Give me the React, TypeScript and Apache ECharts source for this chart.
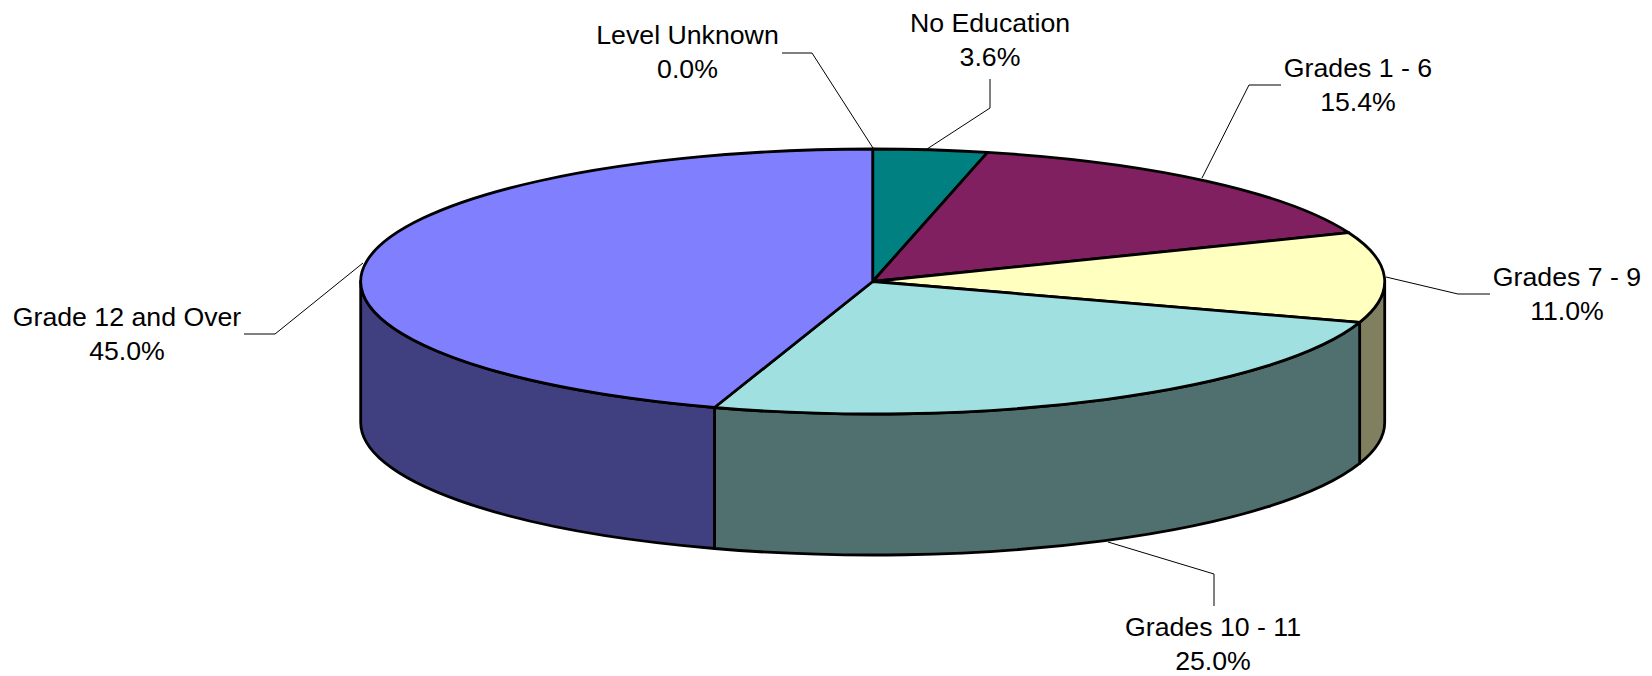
import React, { useEffect, useRef } from "react";
import * as echarts from "echarts";

const categories = ["Level Unknown", "No Education", "Grades 1 - 6", "Grades 7 - 9", "Grades 10 - 11", "Grade 12 and Over"];
const shares = [0.0, 3.6, 15.4, 11.0, 25.0, 45.0];
const topColors = ["#808080", "#008080", "#802060", "#FFFFC0", "#A0E0E0", "#8080FF"];
const sideColors = ["#404040", "#004040", "#401030", "#808060", "#507070", "#404080"];

const CX = 872.7, CY = 281.5, RX = 512, RY = 132.5, DEPTH = 141;
const TEXT_BOX: [number, number][] = [[687.5, 52], [990, 40], [1358, 85], [1567, 294], [1213, 644], [127, 334]];
const LEADERS: [number, number][][] = [
  [[782, 53], [812, 53], [873, 148]],
  [[927, 149], [990, 108], [990, 79]],
  [[1202, 178], [1249, 85], [1281, 85]],
  [[1386, 277], [1458, 294], [1490, 294]],
  [[1108, 542], [1214, 574], [1214, 606]],
  [[363, 263], [275, 334], [244, 334]],
];

const total = shares.reduce((a, b) => a + b, 0);
const pt = (pct: number, dy = 0) => {
  const t = (pct / total) * Math.PI * 2;
  return [CX + RX * Math.sin(t), CY - RY * Math.cos(t) + dy];
};
const arcTo = (p: number[], large: number, sweep: number) =>
  `A ${RX} ${RY} 0 ${large} ${sweep} ${p[0]} ${p[1]}`;

export default function App() {
  const ref = useRef<HTMLDivElement>(null);
  useEffect(() => {
    document.body.style.margin = "0";
    const chart = echarts.init(ref.current!, undefined, { renderer: "svg" });
    const strokeStyle = { stroke: "#000", lineWidth: 2.8, lineJoin: "round" };
    chart.setOption({
      animation: false,
      backgroundColor: "#fff",
      series: [
        {
          type: "custom",
          coordinateSystem: "none",
          silent: true,
          data: shares.map((v, i) => ({ name: categories[i], value: v })),
          renderItem: (params: any, api: any) => {
            const i = params.dataIndex;
            const v = api.value(0);
            if (!v) return null;
            const start = shares.slice(0, i).reduce((a, b) => a + b, 0);
            const end = start + v;
            const children: any[] = [];
            const from = Math.max(start, total * 0.25);
            const to = Math.min(end, total * 0.75);
            if (from < to) {
              const a = pt(from), b = pt(to), c = pt(to, DEPTH), d = pt(from, DEPTH);
              const large = (to - from) / total > 0.5 ? 1 : 0;
              children.push({
                type: "path",
                shape: {
                  pathData: `M ${a[0]} ${a[1]} ${arcTo(b, large, 1)} L ${c[0]} ${c[1]} ${arcTo(d, large, 0)} Z`,
                },
                style: { fill: sideColors[i], ...strokeStyle },
              });
            }
            const s = pt(start), e = pt(end);
            children.push({
              type: "path",
              shape: {
                pathData: `M ${CX} ${CY} L ${s[0]} ${s[1]} ${arcTo(e, v / total > 0.5 ? 1 : 0, 1)} Z`,
              },
              style: { fill: topColors[i], ...strokeStyle },
            });
            return { type: "group", children };
          },
        },
      ],
      graphic: [
        ...LEADERS.map((points) => ({
          type: "polyline",
          z: 10,
          silent: true,
          shape: { points },
          style: { stroke: "#000", lineWidth: 1, fill: "none" },
        })),
        ...categories.map((name, i) => ({
          type: "text",
          z: 11,
          silent: true,
          x: TEXT_BOX[i][0],
          y: TEXT_BOX[i][1],
          style: {
            text: `${name}\n${shares[i].toFixed(1)}%`,
            font: '26.7px "Liberation Sans", Arial, sans-serif',
            lineHeight: 33.5,
            fill: "#000",
            align: "center",
            verticalAlign: "middle",
          },
        })),
      ],
    });
    return () => chart.dispose();
  }, []);
  return <div ref={ref} style={{ width: 1652, height: 676 }} />;
}
